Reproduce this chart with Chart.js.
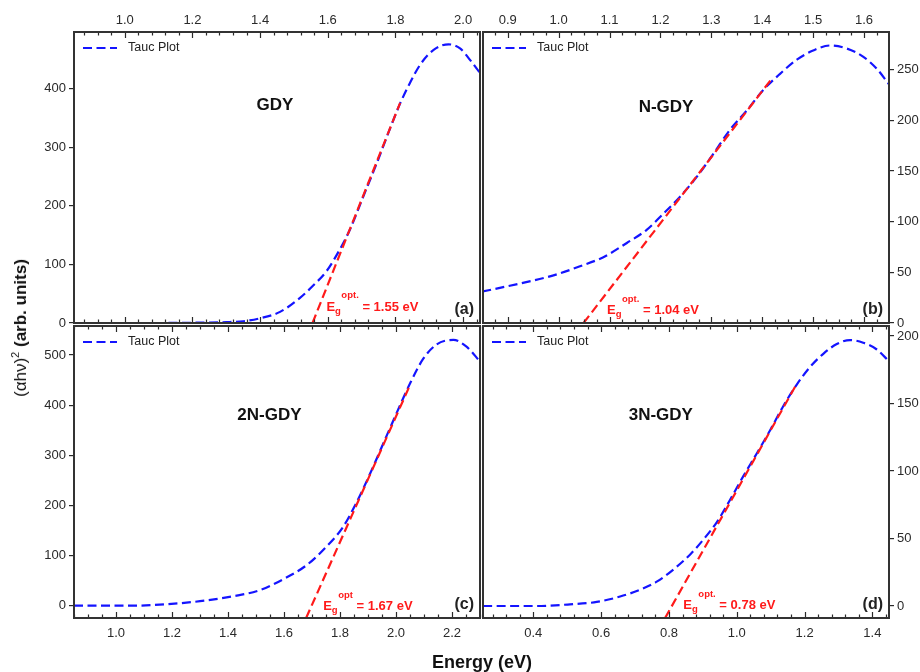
<!DOCTYPE html>
<html>
<head>
<meta charset="utf-8">
<script src="https://cdn.jsdelivr.net/npm/chart.js@4.4.1/dist/chart.umd.min.js"></script>
<style>
html,body{margin:0;padding:0;background:#fff;width:920px;height:672px;overflow:hidden;font-family:"Liberation Sans",Arial,sans-serif;}
canvas{position:absolute;left:0;top:0;}
#ytitle{position:absolute;left:21px;top:328px;transform:translate(-50%,-50%) rotate(-90deg);white-space:nowrap;font-size:17px;color:#111;}
#ytitle b{font-weight:bold;}
#ytitle sup{font-size:11px;vertical-align:7px;line-height:0;}
#xtitle{position:absolute;left:482px;top:662px;transform:translate(-50%,-50%);white-space:nowrap;font-size:18px;font-weight:bold;color:#111;}
</style>
</head>
<body>
<canvas id="pa" width="920" height="672"></canvas>
<canvas id="pb" width="920" height="672"></canvas>
<canvas id="pc" width="920" height="672"></canvas>
<canvas id="pd" width="920" height="672"></canvas>
<div id="ytitle">(αhν)<sup>2</sup> <b>(arb. units)</b></div>
<div id="xtitle">Energy (eV)</div>
<script>
// ---------- data ----------
const energyA = [0.85, 1.0, 1.1, 1.2, 1.3, 1.35, 1.40, 1.459, 1.518, 1.557, 1.597, 1.636, 1.666, 1.705, 1.745, 1.784, 1.814, 1.843, 1.873, 1.912, 1.957, 1.991, 2.021, 2.05];
const taucA   = [0, 0, 0, 0.5, 1.5, 3, 8, 19, 43, 64, 89, 126, 160, 216, 273, 332, 375, 410, 441, 466, 476, 469, 449, 427];
const fitXA = [1.555, 1.814];
const fitYA = [0, 376];

const energyB = [0.85, 0.924, 0.99, 1.042, 1.088, 1.134, 1.173, 1.206, 1.239, 1.271, 1.304, 1.337, 1.37, 1.402, 1.435, 1.468, 1.5, 1.533, 1.566, 1.598, 1.625, 1.65];
const taucB   = [31, 39, 47, 56, 65, 79, 92, 108, 125, 144, 167, 191, 210, 230, 246, 260, 269, 274, 271, 263, 251, 235];
const fitXB = [1.049, 1.420];
const fitYB = [0, 242];

const energyC = [0.85, 1.062, 1.181, 1.3, 1.419, 1.514, 1.598, 1.681, 1.752, 1.812, 1.86, 1.908, 1.955, 2.002, 2.05, 2.098, 2.145, 2.205, 2.253, 2.30];
const taucC   = [0, 0, 3, 9, 19, 31, 53, 81, 118, 158, 207, 264, 324, 384, 443, 493, 521, 530, 516, 487];
const fitXC = [1.679, 2.05];
const fitYC = [-24.5, 440];

const energyD = [0.252, 0.41, 0.508, 0.587, 0.656, 0.715, 0.764, 0.813, 0.862, 0.901, 0.941, 0.98, 1.019, 1.059, 1.098, 1.137, 1.177, 1.216, 1.256, 1.295, 1.334, 1.373, 1.413, 1.45];
const taucD   = [0, 0, 1.2, 3, 7, 12, 18, 27, 38, 49, 62, 78.5, 96, 113, 130, 148, 164, 177, 187, 194, 197, 195, 190, 181];
const fitXD = [0.7885, 1.172];
const fitYD = [-9, 162.4];

const xTicksA = [1.0, 1.2, 1.4, 1.6, 1.8, 2.0];
const yTicksA = [0, 100, 200, 300, 400];
const xTicksB = [0.9, 1.0, 1.1, 1.2, 1.3, 1.4, 1.5, 1.6];
const yTicksB = [0, 50, 100, 150, 200, 250];
const xTicksC = [1.0, 1.2, 1.4, 1.6, 1.8, 2.0, 2.2];
const yTicksC = [0, 100, 200, 300, 400, 500];
const xTicksD = [0.4, 0.6, 0.8, 1.0, 1.2, 1.4];
const yTicksD = [0, 50, 100, 150, 200];

const sampleNames = ['GDY', 'N-GDY', '2N-GDY', '3N-GDY'];
const gapValues = ['1.55', '1.04', '1.67', '0.78'];
const gapSup = ['opt.', 'opt.', 'opt', 'opt.'];
const panelLetters = ['(a)', '(b)', '(c)', '(d)'];
const seriesLabel = 'Tauc Plot';

// ---------- styling ----------
const FONT = '"Liberation Sans", Arial, sans-serif';
const BLUE = '#1414ff';
const RED = '#ff1a1a';
const INK = '#2a2a2a';

const framePlugin = {
  id: 'frame',
  afterDraw(chart, args, o) {
    const {ctx, chartArea: ca} = chart;
    const xs = chart.scales.x, ys = chart.scales.y;
    ctx.save();
    // inward ticks on top and bottom edges
    ctx.strokeStyle = INK;
    ctx.lineWidth = 1.2;
    ctx.beginPath();
    const step = o.minorStep;
    const k0 = Math.ceil(xs.min / step - 1e-6), k1 = Math.floor(xs.max / step + 1e-6);
    for (let k = k0; k <= k1; k++) {
      const v = k * step;
      const major = o.majors.some(m => Math.abs(m - v) < 1e-6);
      const len = major ? 6 : 3.5;
      const px = Math.round(xs.getPixelForValue(v)) + 0.5;
      ctx.moveTo(px, ca.top); ctx.lineTo(px, ca.top + len);
      ctx.moveTo(px, ca.bottom); ctx.lineTo(px, ca.bottom - len);
    }
    ctx.stroke();
    // frame
    ctx.lineWidth = 2;
    ctx.strokeStyle = '#333';
    ctx.strokeRect(ca.left, ca.top, ca.right - ca.left, ca.bottom - ca.top);
    // legend (from the dataset's own label and style)
    const ds = chart.data.datasets[0];
    const ly = ca.top + 16;
    ctx.save();
    ctx.strokeStyle = ds.borderColor;
    ctx.lineWidth = ds.borderWidth;
    ctx.setLineDash(ds.borderDash);
    ctx.beginPath();
    ctx.moveTo(ca.left + 9, ly); ctx.lineTo(ca.left + 43, ly);
    ctx.stroke();
    ctx.restore();
    ctx.fillStyle = '#222';
    ctx.font = '12.5px ' + FONT;
    ctx.textAlign = 'left';
    ctx.textBaseline = 'middle';
    ctx.fillText(ds.label, ca.left + 54, ly);
    // sample name
    ctx.fillStyle = '#111';
    ctx.font = 'bold 17px ' + FONT;
    ctx.textAlign = 'center';
    ctx.textBaseline = 'middle';
    ctx.fillText(o.name, xs.getPixelForValue(o.nameAt[0]), ys.getPixelForValue(o.nameAt[1]));
    // panel letter
    ctx.font = 'bold 16px ' + FONT;
    ctx.textAlign = 'right';
    ctx.textBaseline = 'alphabetic';
    ctx.fillStyle = '#222';
    ctx.fillText(o.letter, ca.right - 6, ca.bottom - 9.5);
    // band gap label
    let x = xs.getPixelForValue(o.gapAt[0]);
    const base = ys.getPixelForValue(o.gapAt[1]);
    ctx.textAlign = 'left';
    ctx.fillStyle = RED;
    ctx.font = 'bold 13px ' + FONT;
    ctx.fillText('E', x, base);
    x += ctx.measureText('E').width;
    ctx.font = 'bold 9.5px ' + FONT;
    ctx.fillText('g', x, base + 3);
    const gw = ctx.measureText('g').width;
    ctx.fillText(o.sup, x + gw + 0.5, base - 12.5);
    const sw = ctx.measureText(o.sup).width;
    x += gw + 0.5 + sw;
    ctx.font = 'bold 13px ' + FONT;
    ctx.fillText(' = ' + o.gap + ' eV', x, base);
    ctx.restore();
  }
};

function pts(xs, ys) { return xs.map((v, i) => ({x: v, y: ys[i]})); }

function makePanel(id, p) {
  return new Chart(document.getElementById(id), {
    type: 'line',
    data: {
      datasets: [
        { label: seriesLabel, data: pts(p.energy, p.tauc), borderColor: BLUE, backgroundColor: BLUE,
          borderWidth: 2.2, borderDash: [9, 4.5], pointRadius: 0, cubicInterpolationMode: 'monotone', fill: false, order: 1 },
        { label: 'fit', data: pts(p.fitX, p.fitY), borderColor: RED, backgroundColor: RED,
          borderWidth: 2.2, borderDash: [9, 4.5], pointRadius: 0, fill: false, order: 0 }
      ]
    },
    options: {
      responsive: false, animation: false, events: [],
      layout: { padding: p.pad },
      plugins: {
        tooltip: { enabled: false },
        legend: { display: false },
        frame: { minorStep: p.minorStep, majors: p.xTicks, name: p.name, nameAt: p.nameAt,
                 letter: p.letter, gap: p.gap, sup: p.sup, gapAt: p.gapAt }
      },
      scales: {
        x: {
          type: 'linear', position: p.xPos, min: p.xMin, max: p.xMax,
          afterBuildTicks: s => { s.ticks = p.xTicks.map(v => ({value: v})); },
          afterFit: s => { s.height = 30; s.paddingLeft = 0; s.paddingRight = 0; s.paddingTop = 0; s.paddingBottom = 0; },
          grid: { display: false, drawTicks: false },
          border: { display: false },
          ticks: { autoSkip: false, maxRotation: 0, padding: p.xPos === 'top' ? 4 : 7.5, color: '#2a2a2a',
                   font: { size: 13, family: FONT }, callback: v => Number(v).toFixed(1) }
        },
        y: {
          type: 'linear', position: p.yPos, min: p.yMin, max: p.yMax,
          afterBuildTicks: s => { s.ticks = p.yTicks.map(v => ({value: v})); },
          afterFit: s => { s.width = 30; s.paddingLeft = 0; s.paddingRight = 0; s.paddingTop = 0; s.paddingBottom = 0; },
          grid: { display: true, drawOnChartArea: false, drawTicks: true, tickLength: 5, color: INK, lineWidth: 1.2 },
          border: { display: false },
          ticks: { autoSkip: false, padding: 3, color: '#2a2a2a', font: { size: 13, family: FONT },
                   callback: v => String(Math.round(v)) }
        }
      }
    },
    plugins: [framePlugin]
  });
}

makePanel('pa', { energy: energyA, tauc: taucA, fitX: fitXA, fitY: fitYA, xTicks: xTicksA, yTicks: yTicksA,
  xMin: 0.85, xMax: 2.05, yMin: 0, yMax: 497, xPos: 'top', yPos: 'left', minorStep: 0.04,
  pad: { left: 44, top: 2, right: 440, bottom: 349 },
  name: sampleNames[0], nameAt: [1.444, 371], letter: panelLetters[0], gap: gapValues[0], sup: gapSup[0], gapAt: [1.596, 21] });

makePanel('pb', { energy: energyB, tauc: taucB, fitX: fitXB, fitY: fitYB, xTicks: xTicksB, yTicks: yTicksB,
  xMin: 0.8515, xMax: 1.649, yMin: 0, yMax: 287.3, xPos: 'top', yPos: 'right', minorStep: 0.025,
  pad: { left: 483, top: 2, right: 1, bottom: 349 },
  name: sampleNames[1], nameAt: [1.211, 212.7], letter: panelLetters[1], gap: gapValues[1], sup: gapSup[1], gapAt: [1.095, 8.6] });

makePanel('pc', { energy: energyC, tauc: taucC, fitX: fitXC, fitY: fitYC, xTicks: xTicksC, yTicks: yTicksC,
  xMin: 0.85, xMax: 2.30, yMin: -24.5, yMax: 557.8, xPos: 'bottom', yPos: 'left', minorStep: 0.05,
  pad: { left: 44, top: 326, right: 440, bottom: 24 },
  name: sampleNames[2], nameAt: [1.548, 380], letter: panelLetters[2], gap: gapValues[2], sup: gapSup[2], gapAt: [1.740, -8.6] });

makePanel('pd', { energy: energyD, tauc: taucD, fitX: fitXD, fitY: fitYD, xTicks: xTicksD, yTicks: yTicksD,
  xMin: 0.2516, xMax: 1.449, yMin: -8.9, yMax: 207.4, xPos: 'bottom', yPos: 'right', minorStep: 0.04,
  pad: { left: 483, top: 326, right: 1, bottom: 24 },
  name: sampleNames[3], nameAt: [0.776, 141.5], letter: panelLetters[3], gap: gapValues[3], sup: gapSup[3], gapAt: [0.8425, -2.4] });
</script>
</body>
</html>
